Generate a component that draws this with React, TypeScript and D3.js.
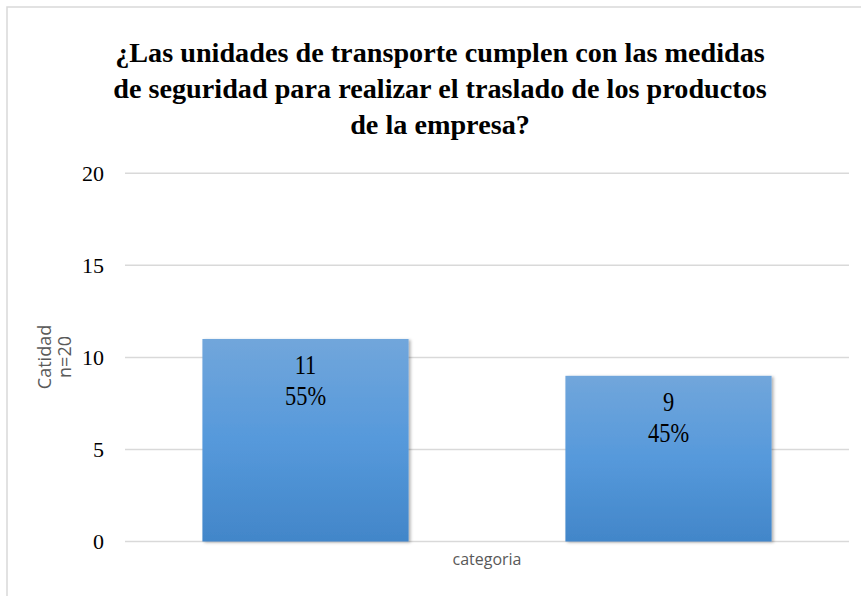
import React from "react";
import * as d3 from "d3";

const categories = ["categoria"];
const seriesNames = ["Si", "No"];
const seriesValues = [11, 9];
const seriesPercents = ["55%", "45%"];
const yTicks = [0, 5, 10, 15, 20];
const titleLines = [
  "¿Las unidades de transporte cumplen con las medidas",
  "de seguridad para realizar el traslado de los productos",
  "de la empresa?",
];
const yAxisTitle = ["Catidad", "n=20"];

const W = 861;
const H = 596;

export default function App() {
  const plotLeft = 125;
  const plotRight = 849;
  const y = d3.scaleLinear().domain([0, 20]).range([541.5, 173.3]);
  const x0 = d3
    .scaleBand<string>()
    .domain(categories)
    .range([plotLeft, plotRight])
    .paddingInner(0)
    .paddingOuter(0.136);
  const x1 = d3
    .scaleBand<string>()
    .domain(seriesNames)
    .range([0, x0.bandwidth()])
    .paddingInner(0.432)
    .paddingOuter(0);

  const serif = "'Liberation Serif', 'Times New Roman', serif";
  const sans = "'Open Sans', 'Noto Sans', sans-serif";
  const titleX = 440;

  return (
    <svg
      width={W}
      height={H}
      style={{ position: "absolute", left: 0, top: 0, background: "#fff" }}
    >
      <defs>
        <linearGradient id="barGrad" x1="0" y1="0" x2="0" y2="1">
          <stop offset="0%" stopColor="#71a6db" />
          <stop offset="50%" stopColor="#5699db" />
          <stop offset="100%" stopColor="#4286c9" />
        </linearGradient>
        <filter id="shadow" x="-10%" y="-10%" width="130%" height="130%">
          <feDropShadow dx="2" dy="1" stdDeviation="1.5" floodColor="#000" floodOpacity="0.3" />
        </filter>
      </defs>
      <rect x={0} y={0} width={W} height={H} fill="#fff" />
      <rect
        x={7}
        y={7}
        width={W + 20}
        height={H + 20}
        fill="none"
        stroke="#d9d9d9"
        strokeWidth={1.5}
      />

      <g transform={`translate(${titleX},0) scale(1.045,1)`}>
        {titleLines.map((t, i) => (
          <text
            key={i}
            x={0}
            y={62 + i * 36}
            textAnchor="middle"
            fontFamily={serif}
            fontWeight="bold"
            fontSize={27}
            fill="#000"
          >
            {t}
          </text>
        ))}
      </g>

      {yTicks.map((t) => (
        <g key={t}>
          <line
            x1={plotLeft}
            x2={plotRight}
            y1={y(t)}
            y2={y(t)}
            stroke="#d9d9d9"
            strokeWidth={1.5}
          />
          <text
            x={104}
            y={y(t)}
            dy="0.34em"
            textAnchor="end"
            fontFamily={serif}
            fontSize={22}
            fill="#000"
          >
            {t}
          </text>
        </g>
      ))}

      <g transform="translate(0,357) rotate(-90)">
        <text x={0} y={51} textAnchor="middle" fontFamily={sans} fontSize={18} fill="#595959">
          {yAxisTitle[0]}
        </text>
        <text x={0} y={71} textAnchor="middle" fontFamily={sans} fontSize={18} fill="#595959">
          {yAxisTitle[1]}
        </text>
      </g>

      {categories.map((c) => (
        <g key={c}>
          {seriesNames.map((s, i) => {
            const bx = (x0(c) as number) + (x1(s) as number);
            const bw = x1.bandwidth();
            const top = y(seriesValues[i]);
            const cx = bx + bw / 2;
            return (
              <g key={s}>
                <rect
                  x={bx}
                  y={top}
                  width={bw}
                  height={y(0) - top}
                  fill="url(#barGrad)"
                  filter="url(#shadow)"
                />
                <g transform={`translate(${cx},${top + 35}) scale(0.83,1)`}>
                  <text x={0} y={0} textAnchor="middle" fontFamily={serif} fontSize={27} fill="#000">
                    {seriesValues[i]}
                  </text>
                  <text x={0} y={31} textAnchor="middle" fontFamily={serif} fontSize={27} fill="#000">
                    {seriesPercents[i]}
                  </text>
                </g>
              </g>
            );
          })}
          <text
            x={(x0(c) as number) + x0.bandwidth() / 2}
            y={565}
            textAnchor="middle"
            fontFamily={sans}
            fontSize={16}
            fill="#595959"
          >
            {c}
          </text>
        </g>
      ))}
    </svg>
  );
}
